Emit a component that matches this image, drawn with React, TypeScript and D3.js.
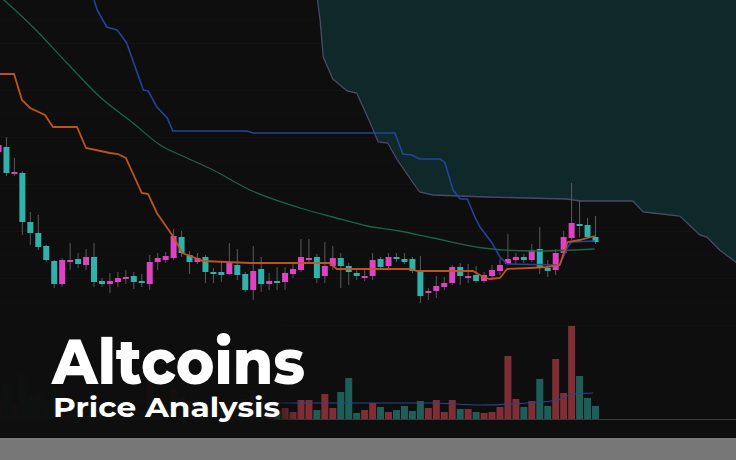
import React from 'react';
import * as d3 from 'd3';

const W = 736;
const H = 460;

// candles, index 0 is the half-cut one at the left edge
const candleOpen = [308, 313, 286, 287, 238, 227, 214, 199, 176, 198, 201, 195, 203, 179, 176, 178, 182, 184, 179, 176, 198, 200, 202, 223, 205, 198, 203, 188, 188, 186, 195, 186, 170, 191, 176, 179, 178, 186, 190, 200, 203, 184, 194, 202, 194, 187, 182, 184, 201, 194, 203, 201, 201, 189, 167, 169, 173, 177, 193, 182, 185, 179, 184, 189, 196, 200, 203, 200, 211, 192, 190, 207, 222, 236, 235, 223];
const candleClose = [315, 287, 288, 238, 227, 213, 200, 176, 200, 200, 196, 203, 178, 176, 179, 182, 183, 178, 178, 198, 202, 204, 224, 207, 198, 202, 188, 186, 185, 197, 185, 170, 189, 176, 179, 177, 187, 191, 203, 202, 182, 194, 202, 194, 188, 184, 184, 200, 193, 203, 201, 198, 189, 164, 169, 174, 177, 193, 184, 184, 179, 185, 190, 195, 201, 203, 200, 210, 192, 189, 207, 223, 237, 234, 223, 218];
const candleHigh = [320, 323, 302, 289, 248, 245, 215, 200, 202, 217, 207, 211, 217, 182, 187, 188, 190, 188, 186, 205, 207, 208, 231, 229, 209, 207, 205, 192, 198, 217, 211, 188, 214, 203, 187, 193, 193, 198, 221, 221, 206, 218, 214, 207, 197, 190, 192, 207, 203, 207, 207, 207, 203, 204, 172, 184, 183, 195, 197, 196, 194, 188, 195, 201, 226, 207, 206, 216, 233, 200, 211, 229, 277, 260, 242, 244];
const candleLow = [305, 284, 284, 225, 215, 210, 198, 172, 173, 190, 192, 190, 173, 173, 167, 173, 176, 171, 173, 170, 190, 197, 200, 203, 186, 196, 177, 177, 178, 185, 180, 168, 160, 168, 170, 170, 170, 182, 188, 198, 177, 177, 190, 172, 175, 180, 179, 180, 190, 192, 198, 196, 187, 157, 160, 162, 170, 175, 175, 177, 177, 177, 180, 185, 195, 195, 197, 198, 186, 183, 185, 202, 220, 223, 222, 216];
const volume = [20, 35, 15, 45, 22, 25, 18, 30, 28, 12, 10, 14, 26, 8, 10, 9, 7, 11, 8, 39, 12, 10, 30, 22, 14, 9, 16, 8, 10, 18, 15, 20, 28, 22, 9, 8, 11, 7, 19, 19, 9, 25, 11, 27, 41, 6, 9, 16, 12, 7, 9, 13, 8, 18, 11, 19, 7, 19, 10, 10, 7, 6, 7, 12, 63, 20, 12, 18, 40, 13, 60, 26, 93, 43, 21, 13];

// indicator lines as [bar index, price] vertices
const orangeIdx = [-0.5, 1.95, 2.95, 3.96, 5.84, 6.85, 9.86, 11.0, 14.0, 15.0, 16.0, 18.0, 18.8, 19.9, 21.2, 21.9, 23.1, 24.1, 25.7, 31.6, 41.6, 42.5, 51.7, 52.6, 59.6, 60.9, 61.7, 63.0, 63.9, 66.8, 68.9, 70.5, 71.5, 73.0, 74.9];
const orangeVal = [386, 386, 360, 352, 345, 333, 333, 312, 307, 306, 302, 267, 266, 247, 232, 224, 207, 204, 199, 197, 197, 191, 191, 189, 189, 183, 181, 182, 191, 192, 193, 195, 218, 220, 224];
const blueIdx = [11.6, 12.4, 13.6, 14.9, 16.1, 18.2, 18.8, 19.9, 21.2, 21.9, 31.2, 32.0, 49.8, 50.8, 51.9, 52.9, 55.5, 56.1, 57.1, 58.0, 58.9, 59.9, 60.5, 62.0, 63.0, 63.9, 70.5, 71.5, 72.0, 74.9];
const blueVal = [470, 450, 433, 430, 417, 370, 369, 353, 342, 329, 329, 327, 327, 306, 305, 301, 301, 297, 270, 261, 261, 242, 233, 217, 203, 196, 195, 213, 218, 219];
const greenIdx = [-0.44, 4.33, 8.6, 12.75, 16.9, 20.3, 23.7, 26.95, 31.6, 37.9, 42.0, 46.3, 50.4, 54.6, 60.9, 67.2, 74.9];
const greenVal = [468, 433, 397, 363, 337, 315, 302, 290, 270, 252, 243, 234, 229, 222, 212, 209, 211];
const cloudIdx = [40.0, 40.4, 40.8, 42.0, 43.8, 45.0, 46.7, 47.7, 48.9, 50.1, 52.9, 54.6, 61.4, 71.4, 73.1, 79.7, 81.0, 82.2, 85.6, 88.1, 89.0, 90.6, 92.6, 93.8];
const cloudVal = [465, 440, 403, 381, 369, 367, 337, 318, 317, 300, 268, 265, 263, 261, 259, 259, 248, 247, 244, 225, 223, 210, 198, 192];
const volMaIdx = [0, 20, 35.7, 54.2, 60.5, 66.4, 70.2, 72.2, 74.7];
const volMaVal = [18, 17, 16, 16, 14, 16, 19, 25, 26];

const BG = '#0e0e0e';
const PINK = '#dd43c3';
const TEAL = '#2fb2ab';

export default function App() {
  const x = d3.scaleLinear().domain([0, 75]).range([-1.5, 595.5]);
  const y = d3.scaleLinear().domain([460, 0]).range([0, H]);
  const v = d3.scaleLinear().domain([0, 100]).range([419, 319]);

  const pts = (idx: number[], val: number[]) => idx.map((d, i) => [d, val[i]] as [number, number]);
  const line = d3.line<[number, number]>().x(d => x(d[0])).y(d => y(d[1]));
  const smooth = d3.line<[number, number]>().x(d => x(d[0])).y(d => y(d[1])).curve(d3.curveMonotoneX);
  const cloudArea = d3.area<[number, number]>().x(d => x(d[0])).y0(-10).y1(d => y(d[1]));
  const volLine = d3.line<[number, number]>().x(d => x(d[0])).y(d => v(d[1])).curve(d3.curveMonotoneX);

  const cloud = pts(cloudIdx, cloudVal);
  const gridY = d3.range(440, 100, -23.5);
  const bw = 6;

  return (
    <svg width={W} height={H} style={{ position: 'absolute', left: 0, top: 0, display: 'block' }}>
      <defs>
        <linearGradient id="fadeLeft" x1="0" x2="1" y1="0" y2="0">
          <stop offset="0" stopColor={BG} stopOpacity={0.97} />
          <stop offset="0.88" stopColor={BG} stopOpacity={0.94} />
          <stop offset="1" stopColor={BG} stopOpacity={0} />
        </linearGradient>
      </defs>
      <rect width={W} height={H} fill={BG} />
      {gridY.map(p => (
        <line key={p} x1={0} x2={W} y1={y(p)} y2={y(p)} stroke="#fff" strokeOpacity={0.02} />
      ))}

      <path d={cloudArea(cloud) || ''} fill="#0f2829" />
      <path d={line(cloud) || ''} fill="none" stroke="#4a4a68" strokeWidth={1.3} />

      {/* volume */}
      <line x1={0} x2={W} y1={v(0) + 0.5} y2={v(0) + 0.5} stroke="#3a3a3a" strokeWidth={1.2} />
      {volume.map((d, i) => (
        <rect key={i} x={x(i) - 3.5} width={7} y={v(d)} height={v(0) - v(d)}
          fill={candleClose[i] >= candleOpen[i] ? '#7e2e34' : '#1d5e59'} />
      ))}
      <path d={volLine(pts(volMaIdx, volMaVal)) || ''} fill="none" stroke="#24468f" strokeWidth={1.2} />
      <rect x={0} y={322} width={300} height={105} fill="url(#fadeLeft)" />

      {/* candles */}
      {candleOpen.map((o, i) => {
        const c = candleClose[i];
        const up = c >= o;
        const top = y(Math.max(o, c));
        const h = Math.max(2, Math.abs(y(o) - y(c)));
        return (
          <g key={i}>
            <line x1={x(i)} x2={x(i)} y1={y(candleHigh[i])} y2={y(candleLow[i])} stroke="#5a5a5a" strokeWidth={1} />
            <rect x={x(i) - bw / 2} y={top} width={bw} height={h} fill={up ? PINK : TEAL} />
          </g>
        );
      })}

      <path d={smooth(pts(greenIdx, greenVal)) || ''} fill="none" stroke="#1b6444" strokeWidth={1.3} />
      <path d={line(pts(blueIdx, blueVal)) || ''} fill="none" stroke="#2447a0" strokeWidth={1.6} strokeOpacity={0.95} />
      <path d={line(pts(orangeIdx, orangeVal)) || ''} fill="none" stroke="#c9561c" strokeWidth={1.8} strokeOpacity={0.95} />

      <rect x={0} y={438} width={W} height={22} fill="#777777" />

      <text x={52} y={384} fontSize={64} fontWeight={800} fill="#fff" textLength={253} lengthAdjust="spacingAndGlyphs"
        fontFamily="Montserrat, 'Open Sans', sans-serif">Altcoins</text>
      <text x={53} y={417} fontSize={27} fontWeight={700} fill="#fff" textLength={227} lengthAdjust="spacingAndGlyphs"
        fontFamily="Montserrat, 'Open Sans', sans-serif">Price Analysis</text>
    </svg>
  );
}
